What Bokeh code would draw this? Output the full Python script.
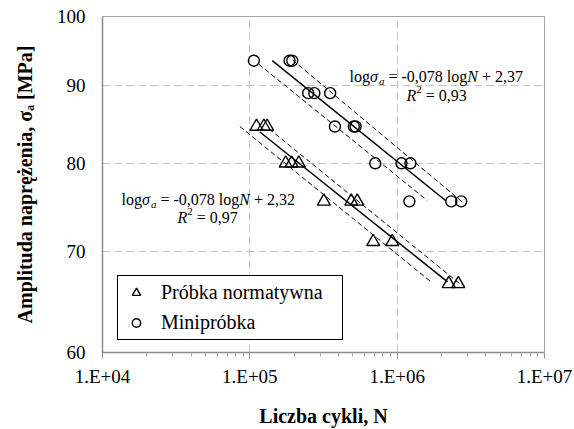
import math
from bokeh.plotting import figure
from bokeh.models import (Range1d, FixedTicker, CustomJSTickFormatter, Legend,
                          LegendItem, Label)
from bokeh.embed import file_html
from bokeh.resources import INLINE

# ---------------- data ----------------
x_ticks = [1e4, 1e5, 1e6, 1e7]
x_tick_labels = ["1.E+04", "1.E+05", "1.E+06", "1.E+07"]
y_ticks = [60, 70, 80, 90, 100]
y_tick_labels = ["60", "70", "80", "90", "100"]

# Miniprobka (circles)
circle_N = [1.065e5, 1.86e5, 1.94e5, 2.49e5, 2.74e5, 3.51e5, 3.78e5, 5.08e5,
            5.22e5, 7.10e5, 1.07e6, 1.23e6, 1.21e6, 2.33e6, 2.72e6]
circle_S = [93.5, 93.5, 93.5, 89.0, 89.0, 89.0, 84.6, 84.6,
            84.6, 80.0, 80.0, 80.0, 75.5, 75.5, 75.5]

# Probka normatywna (triangles)
tri_N = [1.11e5, 1.245e5, 1.31e5, 1.75e5, 1.92e5, 2.15e5, 3.18e5, 4.88e5,
         5.36e5, 6.88e5, 9.26e5, 2.24e6, 2.60e6]
tri_S = [84.6, 84.6, 84.6, 80.0, 80.0, 80.0, 75.5, 75.5,
         75.5, 71.0, 71.0, 66.6, 66.6]

# fitted lines and scatter bands (end points)
circle_fit_N = [1.42e5, 2.13e6]
circle_fit_S = [93.5, 75.6]
circle_band1_N = [1.15e5, 1.60e6]
circle_band1_S = [93.0, 75.6]
circle_band2_N = [1.95e5, 2.82e6]
circle_band2_S = [93.6, 75.3]

tri_fit_N = [1.17e5, 2.20e6]
tri_fit_S = [83.9, 66.8]
tri_band1_N = [8.55e4, 1.73e6]
tri_band1_S = [84.6, 66.7]
tri_band2_N = [1.35e5, 2.77e6]
tri_band2_S = [84.3, 66.4]

series_names = ["Próbka normatywna", "Minipróbka"]
eq_slope = ["-0,078", "-0,078"]          # circles, triangles
eq_intercept = ["2,37", "2,32"]
eq_r2 = ["0,93", "0,97"]
x_title = "Liczba cykli, N"
y_title = "Amplituda naprężenia, σₐ [MPa]"

# ---------------- figure ----------------
FONT = "Times New Roman, Liberation Serif, serif"
p = figure(width=574, height=429, x_axis_type="log", y_axis_type="log",
           x_range=Range1d(1e4, 1e7), y_range=Range1d(60, 100),
           output_backend="svg", toolbar_location=None,
           min_border_left=102, min_border_right=30, min_border_top=16,
           min_border_bottom=77)
p.background_fill_color = "white"
p.border_fill_color = "white"
p.outline_line_color = "#a6a6a6"
p.outline_line_width = 1

minor = [k * 10 ** e for e in range(4, 7) for k in range(2, 10)]
p.xaxis.ticker = FixedTicker(ticks=x_ticks, minor_ticks=minor)
p.yaxis.ticker = FixedTicker(ticks=y_ticks, minor_ticks=[])
p.xaxis.formatter = CustomJSTickFormatter(
    args=dict(tk=x_ticks, lb=x_tick_labels),
    code="""
    const i = tk.findIndex(t => Math.abs(Math.log10(t) - Math.log10(tick)) < 1e-6);
    return i >= 0 ? lb[i] : "";
    """)
p.yaxis.formatter = CustomJSTickFormatter(
    args=dict(tk=y_ticks, lb=y_tick_labels),
    code="""
    const i = tk.findIndex(t => Math.abs(t - tick) < 1e-6);
    return i >= 0 ? lb[i] : "";
    """)

for ax in (p.xaxis, p.yaxis):
    ax.axis_line_color = "#8c8c8c"
    ax.axis_line_width = 1.5
    ax.major_label_text_font = FONT
    ax.major_label_text_font_size = "19px"
    ax.major_label_text_color = "black"
    ax.major_tick_line_color = "#8c8c8c"
    ax.minor_tick_line_color = "#a6a6a6"
    ax.axis_label_text_font = FONT
    ax.axis_label_text_font_size = "20px"
    ax.axis_label_text_font_style = "bold"
    ax.axis_label_text_color = "black"

p.xaxis.axis_label = x_title
p.yaxis.axis_label = y_title
p.xaxis.major_tick_in = 0
p.xaxis.major_tick_out = 6
p.xaxis.minor_tick_in = 0
p.xaxis.minor_tick_out = 4
p.xaxis.major_label_standoff = 7
p.xaxis.axis_label_standoff = 15
p.yaxis.major_tick_in = 0
p.yaxis.major_tick_out = 0
p.yaxis.minor_tick_in = 0
p.yaxis.minor_tick_out = 0
p.yaxis.major_label_standoff = 17
p.yaxis.axis_label_standoff = 18

for g in (p.xgrid, p.ygrid):
    g.grid_line_color = "#c4c4c4"
    g.grid_line_dash = "8 4"
    g.grid_line_width = 1

# lines
p.line(circle_fit_N, circle_fit_S, line_color="black", line_width=1.5)
p.line(circle_band1_N, circle_band1_S, line_color="black", line_width=1, line_dash="5 3")
p.line(circle_band2_N, circle_band2_S, line_color="black", line_width=1, line_dash="5 3")
p.line(tri_fit_N, tri_fit_S, line_color="black", line_width=1.5)
p.line(tri_band1_N, tri_band1_S, line_color="black", line_width=1, line_dash="5 3")
p.line(tri_band2_N, tri_band2_S, line_color="black", line_width=1, line_dash="5 3")

# markers
tri_r = p.scatter(tri_N, tri_S, marker="triangle", size=13, fill_color=None,
                  line_color="black", line_width=1.4)
circ_r = p.scatter(circle_N, circle_S, marker="circle", size=11, fill_color=None,
                   line_color="black", line_width=1.4)

legend = Legend(items=[LegendItem(label=series_names[0], renderers=[tri_r]),
                       LegendItem(label=series_names[1], renderers=[circ_r])],
                location=(15, 12), border_line_color="black", border_line_width=1,
                border_line_alpha=1, background_fill_color="white",
                background_fill_alpha=1, label_text_font=FONT,
                label_text_font_size="20px", label_text_color="black",
                glyph_width=26, glyph_height=21, label_standoff=12,
                label_width=176, label_height=20, padding=5, spacing=7,
                margin=0)
p.add_layout(legend, "center")

# ---------------- rich text helpers ----------------
REG = {' ': 250, '-': 333, ',': 250, '=': 564, '+': 564, '.': 250, 'l': 278,
       'o': 500, 'g': 500, 'a': 444, 'R': 667, 'N': 722}
ITA = {'σ': 560, 'a': 500, 'N': 667, 'R': 611, '2': 500}
TABLES = {"normal": REG, "italic": ITA}


def seg_width(txt, style, size):
    tab = TABLES[style]
    return sum(tab.get(ch, 500) for ch in txt) / 1000.0 * size


def rich(x, y, segs):
    adv = 0.0
    for txt, style, size, shift in segs:
        lead = len(txt) - len(txt.lstrip(" "))
        core = txt.strip(" ")
        start = adv + seg_width(" " * lead, style, size)
        if core:
            p.add_layout(Label(x=x, y=y, x_units="screen", y_units="screen",
                               x_offset=start, y_offset=shift, text=core,
                               text_font=FONT, text_font_size=f"{size}px",
                               text_font_style=style, text_color="black",
                               text_baseline="alphabetic", text_align="left"))
        adv += seg_width(txt, style, size)


def equation(slope, intercept):
    return [("log", "normal", 16, 0), ("σ", "italic", 16, 0), ("a", "italic", 11, -4),
            (f" = {slope} log", "normal", 16, 0), ("N", "italic", 16, 0),
            (f" + {intercept}", "normal", 16, 0)]


def r2line(r2):
    return [("R", "italic", 16, 0), ("2", "normal", 11, 6), (f" = {r2}", "normal", 16, 0)]


# upper (circles) annotation
rich(247, 276, equation(eq_slope[0], eq_intercept[0]))
rich(304, 257, r2line(eq_r2[0]))
# lower (triangles) annotation
rich(19, 153, equation(eq_slope[1], eq_intercept[1]))
rich(75, 135, r2line(eq_r2[1]))

open("out.html", "w").write(file_html(p, INLINE))
